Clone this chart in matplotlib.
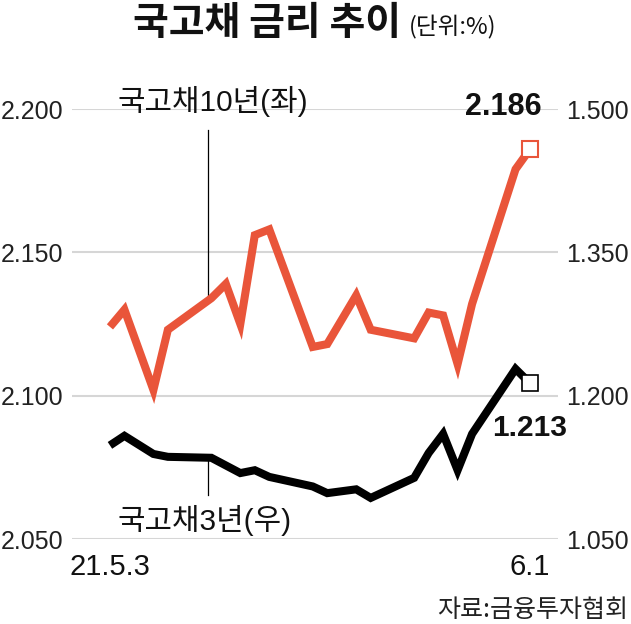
import matplotlib

matplotlib.use("Agg")

import matplotlib.pyplot as plt
import matplotlib.dates as mdates
import numpy as np
import pandas as pd
from matplotlib import font_manager

# trading days, 2021
DATES = [
    "2021-05-03", "2021-05-04", "2021-05-06", "2021-05-07", "2021-05-10",
    "2021-05-11", "2021-05-12", "2021-05-13", "2021-05-14", "2021-05-17",
    "2021-05-18", "2021-05-20", "2021-05-21", "2021-05-24", "2021-05-25",
    "2021-05-26", "2021-05-27", "2021-05-28", "2021-05-31", "2021-06-01",
]
KTB_10Y = [
    2.124, 2.130, 2.102, 2.123, 2.134, 2.139, 2.125, 2.156, 2.158, 2.117,
    2.118, 2.135, 2.123, 2.120, 2.129, 2.128, 2.111, 2.132, 2.179, 2.186,
]
KTB_3Y = [
    1.148, 1.158, 1.139, 1.136, 1.135, 1.127, 1.119, 1.122, 1.115, 1.105,
    1.098, 1.102, 1.093, 1.114, 1.140, 1.160, 1.122, 1.160, 1.228, 1.213,
]
LEFT_TICKS = [2.05, 2.10, 2.15, 2.20]
RIGHT_TICKS = [1.05, 1.20, 1.35, 1.50]
X_TICK_LABELS = ["21.5.3", "6.1"]

RED = "#E9553A"
GRID = "#D6D6D6"

installed = {f.name for f in font_manager.fontManager.ttflist}
NUM_FONT = "Liberation Sans Narrow" if "Liberation Sans Narrow" in installed else "Liberation Sans"
NARROW = NUM_FONT == "Liberation Sans Narrow"
KR_FONT = "Noto Sans CJK KR"
MIXED = [NUM_FONT, KR_FONT, "DejaVu Sans"]
plt.rcParams["font.family"] = MIXED

# sizes picked so the label widths match the reference
tick_size = 22 if NARROW else 18
date_size = 26 if NARROW else 21
end_size = 27 if NARROW else 22

dates = pd.to_datetime(DATES)
ten = np.array(KTB_10Y)
three = np.array(KTB_3Y)

fig = plt.figure(figsize=(6.31, 6.24), dpi=100)
ax = fig.add_axes([0.1141, 0.1362, 0.7702, 0.6891])
ax2 = ax.twinx()

for a in (ax, ax2):
    for s in a.spines.values():
        s.set_visible(False)
    a.tick_params(length=0)

ax.set_ylim(LEFT_TICKS[0], LEFT_TICKS[-1])
ax2.set_ylim(RIGHT_TICKS[0], RIGHT_TICKS[-1])
ax.set_xlim(dates[0] - pd.Timedelta(days=2.62), dates[-1] + pd.Timedelta(days=1.93))

ax.set_yticks(LEFT_TICKS)
ax.set_yticklabels([f"{v:.3f}" for v in LEFT_TICKS], fontsize=tick_size,
                   color="#222222", family=NUM_FONT)
ax.tick_params(axis="y", pad=6.5)
ax2.set_yticks(RIGHT_TICKS)
ax2.set_yticklabels([f"{v:.3f}" for v in RIGHT_TICKS], fontsize=tick_size,
                    color="#222222", family=NUM_FONT)
ax2.tick_params(axis="y", pad=5.8)

ax.set_xticks([dates[0], dates[-1]])
ax.set_xticklabels(X_TICK_LABELS, fontsize=date_size, color="#111111", family=NUM_FONT)
ax.tick_params(axis="x", pad=10)

ax.yaxis.grid(True, color=GRID, linewidth=1.5, zorder=0)
ax.set_axisbelow(True)

ax.plot(dates, ten, color=RED, linewidth=5.8, solid_joinstyle="miter",
        solid_capstyle="butt", zorder=3)
ax.plot(dates[-1:], ten[-1:], marker="s", markersize=12, markerfacecolor="white",
        markeredgecolor=RED, markeredgewidth=1.5, linestyle="none", zorder=4)
ax2.plot(dates, three, color="black", linewidth=5.8, solid_joinstyle="miter",
         solid_capstyle="butt", zorder=3)
ax2.plot(dates[-1:], three[-1:], marker="s", markersize=12, markerfacecolor="white",
         markeredgecolor="black", markeredgewidth=1.2, linestyle="none", zorder=4)

# leader lines from the series labels to the lines
leader_x = dates[0] + pd.Timedelta(days=6.75)
xnum = mdates.date2num(dates)
lx = mdates.date2num(leader_x)
ax.plot([leader_x, leader_x], [2.1927, np.interp(lx, xnum, ten)], color="black",
        linewidth=0.9, zorder=2)
ax2.plot([leader_x, leader_x], [np.interp(lx, xnum, three), 1.096], color="black",
         linewidth=0.9, zorder=2)

ax.text(0.0926, 1.0186, "국고채10년(좌)", transform=ax.transAxes, fontsize=21.5,
        ha="left", va="center", color="#111111")
ax.text(0.0926, 0.044, "국고채3년(우)", transform=ax.transAxes, fontsize=21.5,
        ha="left", va="center", color="#111111")

ax.annotate(f"{KTB_10Y[-1]:.3f}", xy=(dates[-1], ten[-1]), xytext=(8, 30),
            textcoords="offset points", ha="right", va="center", fontsize=end_size,
            fontweight="bold", family=NUM_FONT, color="#111111")
ax2.annotate(f"{KTB_3Y[-1]:.3f}", xy=(dates[-1], three[-1]), xytext=(27, -32),
             textcoords="offset points", ha="right", va="center", fontsize=end_size - 0.5,
             fontweight="bold", family=NUM_FONT, color="#111111")

fig.text(133 / 631, 1 - 23 / 624, "국고채 금리 추이", fontsize=28, fontweight="bold",
         family=KR_FONT, ha="left", va="center", color="#111111")
fig.text(409 / 631, 1 - 27 / 624, "(단위:%)", fontsize=17, family=KR_FONT,
         ha="left", va="center", color="#111111")
fig.text(628 / 631, 1 - 610 / 624, "자료:금융투자협회", fontsize=18, family=KR_FONT,
         ha="right", va="center", color="#222222")

fig.savefig("out.png", dpi=100)
